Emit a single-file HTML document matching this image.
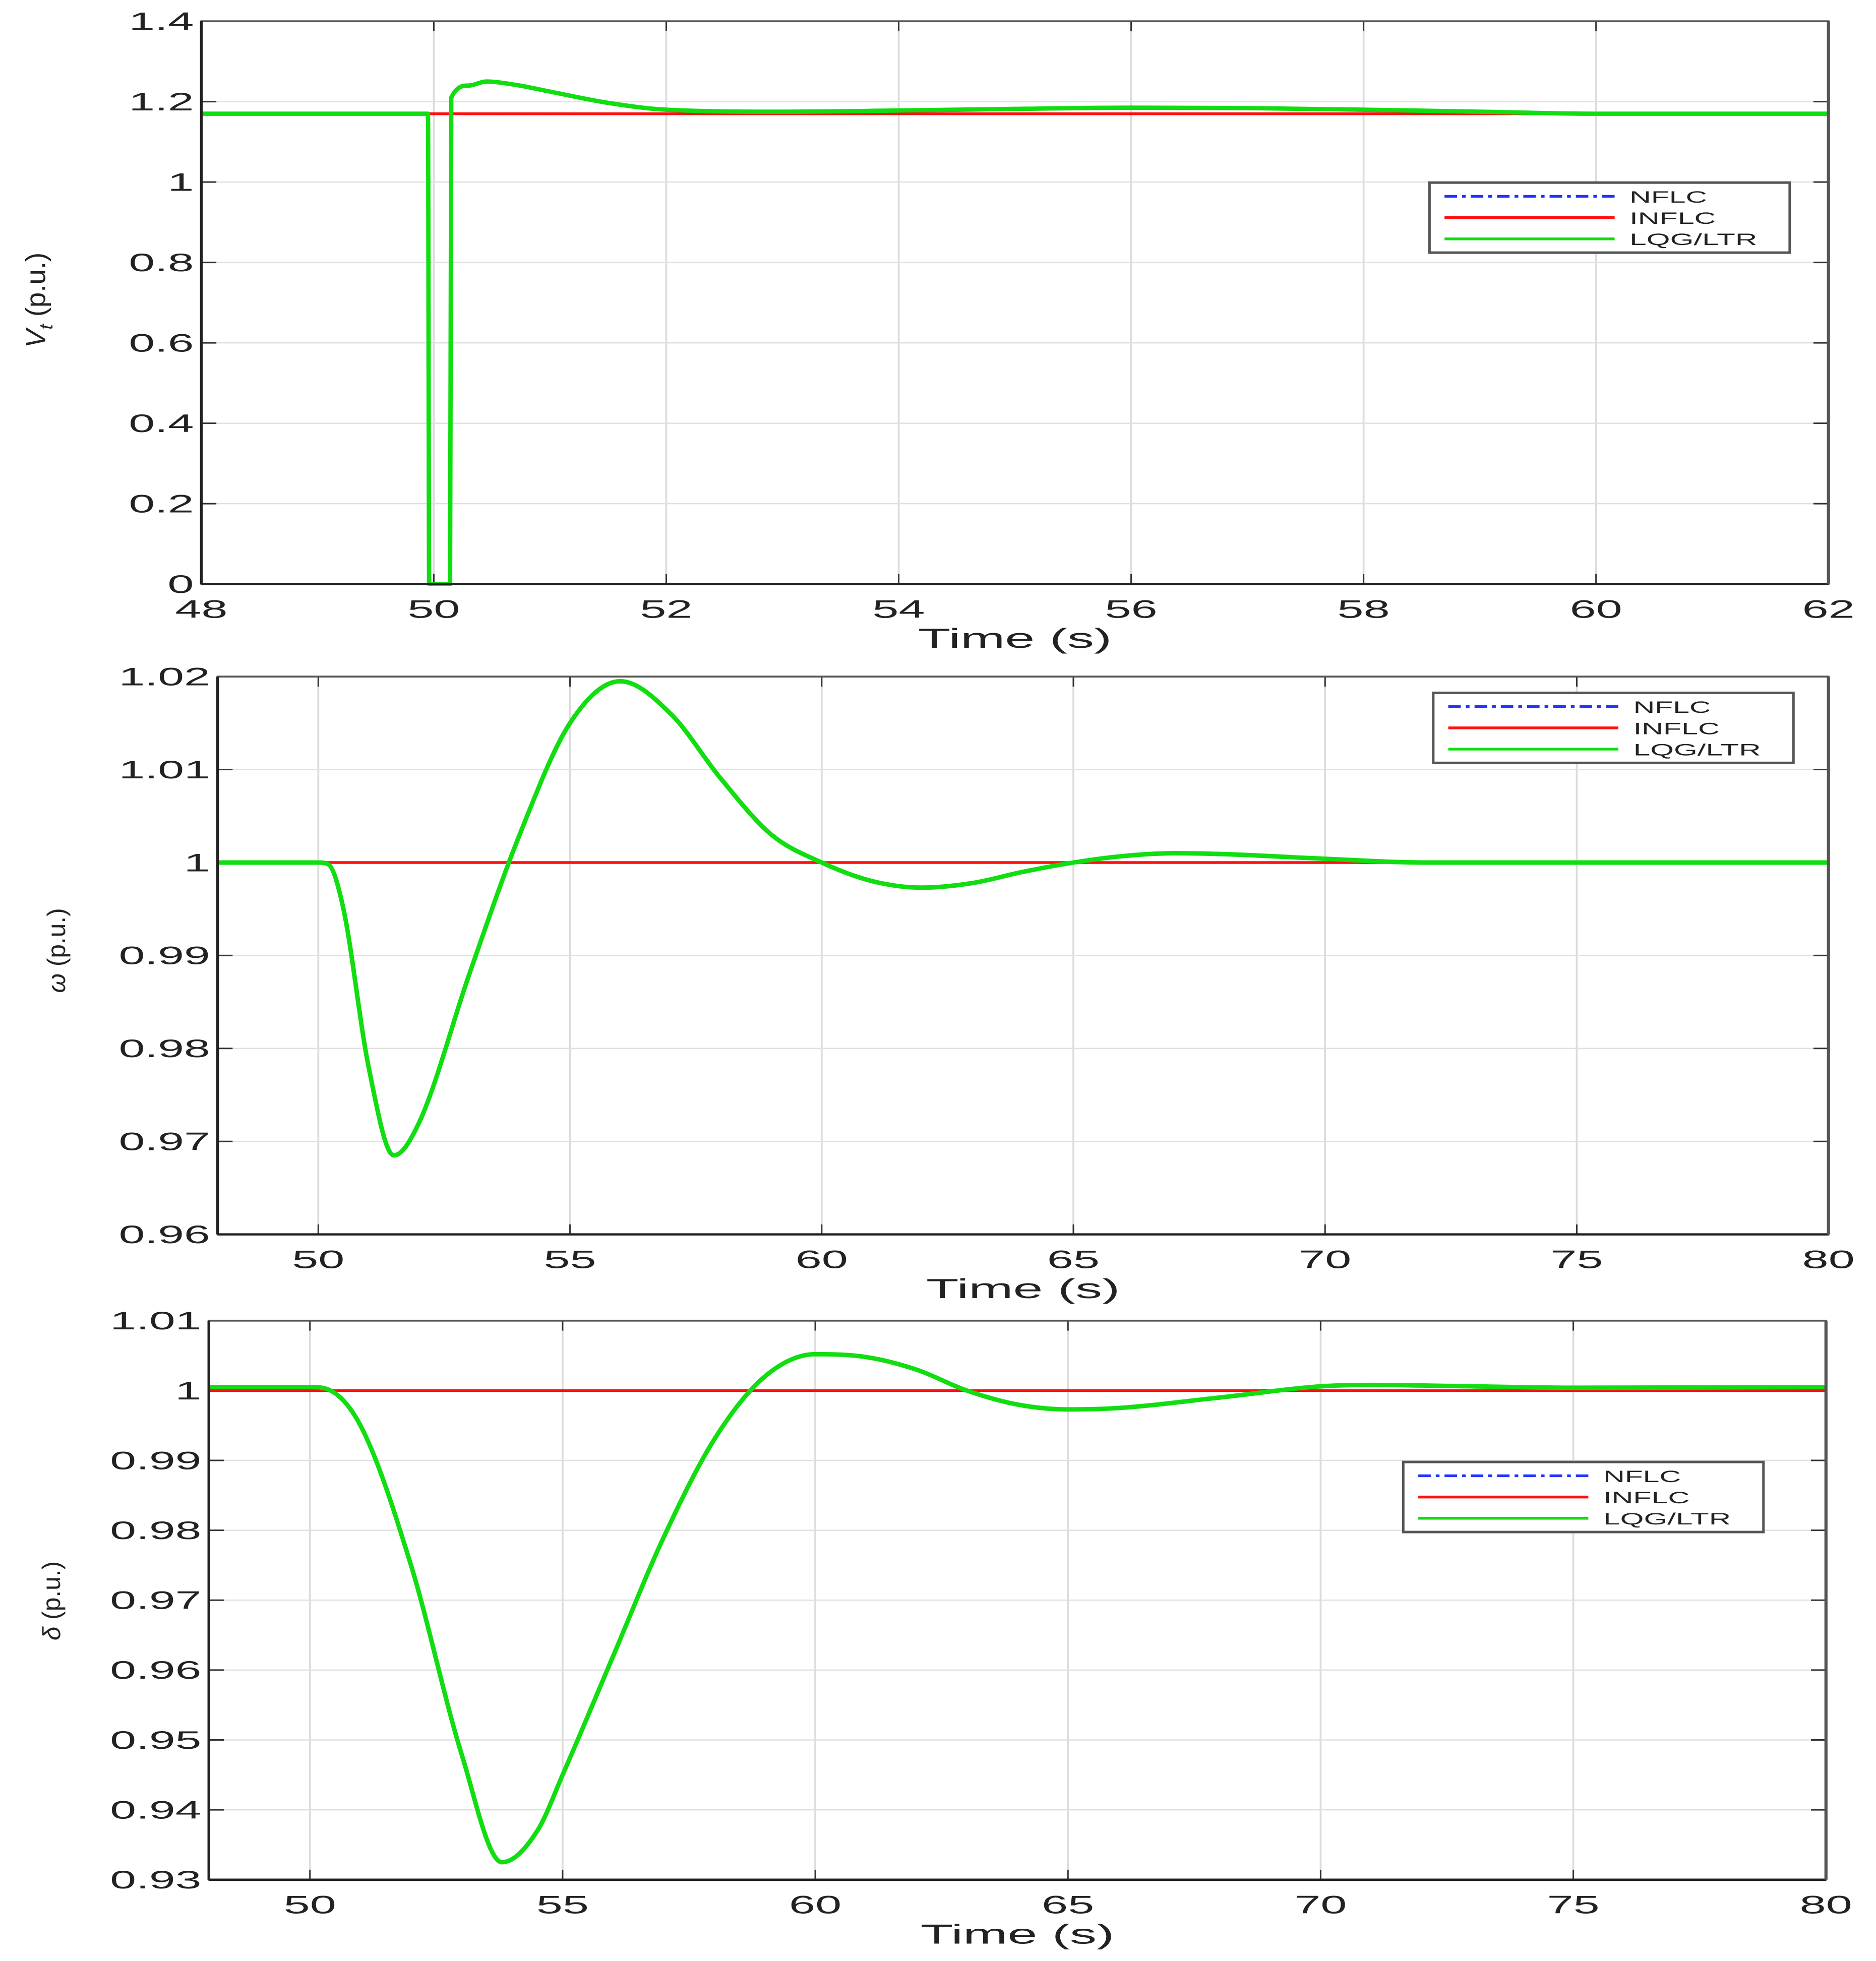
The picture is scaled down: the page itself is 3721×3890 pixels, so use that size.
<!DOCTYPE html>
<html><head><meta charset="utf-8"><style>
html,body{margin:0;padding:0;background:#fff}
svg{display:block}
text{font-family:"Liberation Sans",sans-serif;fill:#222}
</style></head><body>
<svg id="fig" width="3721" height="3890" viewBox="0 0 1500 1568" preserveAspectRatio="none" xmlns="http://www.w3.org/2000/svg"></svg>
<script>
// ---- data ----
const vtTime = [48,49.95,49.96,50.1,50.14,50.15,50.3,50.45,50.7,51,51.5,52,53,54,55,56,57,58,59,60,61,62];
const vtLQG  = [1.17,1.17,0,0,0,1.21,1.24,1.25,1.242,1.225,1.197,1.18,1.175,1.178,1.182,1.185,1.184,1.18,1.175,1.17,1.17,1.17];
const vtRefTime = [48,50,50.15,62];
const vtINFLC = [1.17,1.17,1.17,1.17];

const wTime = [48,50,50.2,50.5,51,51.5,52,53,54,55,56,57,58,59,60,61,62,63,64,65,66,67,68,70,72,75,80];
const wLQG  = [1,1,0.9998,0.995,0.978,0.9685,0.972,0.988,1.003,1.015,1.0195,1.016,1.009,1.003,1.0,0.998,0.9973,0.9978,0.999,1.0,1.0007,1.001,1.0009,1.0004,1.0,1.0,1.0];
const wRefTime = [48,80];
const wINFLC = [1,1];

const dTime = [48,50,50.3,51,52,53,53.8,54.5,55,56,57,58,59,60,61,62,63,64,65,66,68,70,71,73,75,80];
const dLQG  = [1.0005,1.0005,1.0003,0.995,0.975,0.948,0.9325,0.937,0.945,0.962,0.979,0.993,1.002,1.0052,1.0048,1.003,1.0,0.998,0.9973,0.9975,0.999,1.0006,1.0008,1.0006,1.0004,1.0005];
const dRefTime = [48,80];
const dINFLC = [1,1];

const vtTicksX = [48,50,52,54,56,58,60,62];
const vtTicksY = [0,0.2,0.4,0.6,0.8,1,1.2,1.4];
const vtTickLblY = ["0","0.2","0.4","0.6","0.8","1","1.2","1.4"];
const wTicksX = [50,55,60,65,70,75,80];
const wTicksY = [0.96,0.97,0.98,0.99,1,1.01,1.02];
const wTickLblY = ["0.96","0.97","0.98","0.99","1","1.01","1.02"];
const dTicksX = [50,55,60,65,70,75,80];
const dTicksY = [0.93,0.94,0.95,0.96,0.97,0.98,0.99,1,1.01];
const dTickLblY = ["0.93","0.94","0.95","0.96","0.97","0.98","0.99","1","1.01"];
const legendLabels = ["NFLC","INFLC","LQG/LTR"];

// ---- drawing ----
const NS="http://www.w3.org/2000/svg";
const svg=document.getElementById('fig');
function mk(tag,attrs,parent){const e=document.createElementNS(NS,tag);for(const k in attrs)e.setAttribute(k,attrs[k]);(parent||svg).appendChild(e);return e;}
function tw(s){let w=0;for(const c of s)w+=(c==='.'?10:21);return w;}

function pathFrom(xs,ys,sx,sy){
  const X=xs.map(sx),Y=ys.map(sy),n=X.length;
  const d=[],m=new Array(n).fill(0);
  for(let i=0;i<n-1;i++)d.push((Y[i+1]-Y[i])/(X[i+1]-X[i]));
  m[0]=d[0];m[n-1]=d[n-2];
  for(let i=1;i<n-1;i++){m[i]=(d[i-1]*d[i]<=0)?0:(d[i-1]+d[i])/2;}
  for(let i=0;i<n-1;i++){
    if(d[i]===0){m[i]=0;m[i+1]=0;continue;}
    const a=m[i]/d[i],b=m[i+1]/d[i],s=a*a+b*b;
    if(s>9){const t=3/Math.sqrt(s);m[i]=t*a*d[i];m[i+1]=t*b*d[i];}
  }
  let p='M'+X[0].toFixed(2)+','+Y[0].toFixed(2);
  for(let i=0;i<n-1;i++){
    const h=X[i+1]-X[i];
    p+='C'+(X[i]+h/3).toFixed(2)+','+(Y[i]+m[i]*h/3).toFixed(2)+' '+(X[i+1]-h/3).toFixed(2)+','+(Y[i+1]-m[i+1]*h/3).toFixed(2)+' '+X[i+1].toFixed(2)+','+Y[i+1].toFixed(2);
  }
  return p;
}

function panel(cfg){
  const g=mk('g',{});
  
  
  const sx=v=>cfg.L+(v-cfg.x0)/(cfg.x1-cfg.x0)*(cfg.R-cfg.L);
  const sy=v=>cfg.B-(v-cfg.y0)/(cfg.y1-cfg.y0)*(cfg.B-cfg.T);
  cfg.tx.forEach(t=>{const l=mk('line',{x1:sx(t),x2:sx(t),y1:cfg.T,y2:cfg.B,stroke:'#dcdcdc','stroke-width':1.5},g);
    });
  cfg.ty.forEach(t=>{const l=mk('line',{x1:cfg.L,x2:cfg.R,y1:sy(t),y2:sy(t),stroke:'#e0e0e0','stroke-width':1},g);
    });
  cfg.tx.forEach(t=>{mk('line',{x1:sx(t),x2:sx(t),y1:cfg.B,y2:cfg.B-8,stroke:'#333','stroke-width':1.2},g);mk('line',{x1:sx(t),x2:sx(t),y1:cfg.T,y2:cfg.T+8,stroke:'#333','stroke-width':1.2},g);
    const s=String(t);
    const tt=mk('text',{x:sx(t),y:cfg.B+27,'text-anchor':'middle','font-size':20,fill:'#333',textLength:tw(s),lengthAdjust:'spacingAndGlyphs'},g);tt.textContent=s;
    });
  cfg.ty.forEach((t,i)=>{mk('line',{x1:cfg.L,x2:cfg.L+12,y1:sy(t),y2:sy(t),stroke:'#333','stroke-width':1.2},g);mk('line',{x1:cfg.R,x2:cfg.R-12,y1:sy(t),y2:sy(t),stroke:'#333','stroke-width':1.2},g);
    const s=cfg.tyl[i];
    const tt=mk('text',{x:cfg.L-6-tw(s),y:sy(t)+7,'font-size':20,fill:'#333',textLength:tw(s),lengthAdjust:'spacingAndGlyphs'},g);tt.textContent=s;
    });
  const b=mk('path',{d:pathFrom(cfg.refT,cfg.ref,sx,sy),fill:'none',stroke:'#2233ff','stroke-width':2,'stroke-dasharray':'10,4,3,4'},g);
  
  const r=mk('path',{d:pathFrom(cfg.refT,cfg.ref,sx,sy),fill:'none',stroke:'#ff1010','stroke-width':2.2},g);
  
  const gr=mk('path',{d:pathFrom(cfg.t,cfg.v,sx,sy),fill:'none',stroke:'#11dd11','stroke-width':cfg.gw,'stroke-linejoin':'round'},g);
  
  const bx=mk('rect',{x:cfg.L,y:cfg.T,width:cfg.R-cfg.L,height:cfg.B-cfg.T,fill:'none',stroke:'#555','stroke-width':1.5},g);
  
  mk('line',{x1:cfg.L,x2:cfg.L,y1:cfg.T,y2:cfg.B,stroke:'#222','stroke-width':2.2},g);
  mk('line',{x1:cfg.L,x2:cfg.R,y1:cfg.B,y2:cfg.B,stroke:'#222','stroke-width':1.8},g);
  mk('line',{x1:cfg.R,x2:cfg.R,y1:cfg.T,y2:cfg.B,stroke:'#555','stroke-width':2.5},g);
  const xl=mk('text',{x:(cfg.L+cfg.R)/2,y:cfg.B+51,'text-anchor':'middle','font-size':22,fill:'#333',textLength:155,lengthAdjust:'spacingAndGlyphs'},g);xl.textContent='Time (s)';
  
  const yl=mk('text',{transform:`translate(${cfg.ylx},${cfg.yly}) rotate(-90)`,'text-anchor':'middle','font-size':cfg.ylfs},g);
  
  yl.innerHTML=cfg.ylab;
  const lg=mk('g',{},g);
  mk('rect',{x:cfg.lx,y:cfg.ly,width:288,height:56,fill:'#fff',stroke:'#555','stroke-width':2},lg);
  const cols=['#2233ff','#ff1010','#11dd11'];const dash=['10,4,3,4','',''];const lw=[62,69,102];
  legendLabels.forEach((s,i)=>{const yy=cfg.ly+11+i*17;
    const ln=mk('line',{x1:cfg.lx+12,x2:cfg.lx+148,y1:yy,y2:yy,stroke:cols[i],'stroke-width':2.2,'stroke-dasharray':dash[i]},lg);
    
    const tt=mk('text',{x:cfg.lx+160,y:yy+5,'font-size':13,textLength:lw[i],lengthAdjust:'spacingAndGlyphs'},lg);tt.textContent=s;
    });
}

panel({name:'vt-panel',L:161,R:1462,T:17,B:467,x0:48,x1:62,y0:0,y1:1.4,tx:vtTicksX,ty:vtTicksY,tyl:vtTickLblY,
  t:vtTime,v:vtLQG,refT:vtRefTime,ref:vtINFLC,gw:3.5,ylx:36,yly:240,ylfs:22,
  ylab:'<tspan font-style="italic">V</tspan><tspan font-style="italic" font-size="15" dy="6">t</tspan><tspan dy="-6"> (p.u.)</tspan>',lx:1143,ly:146});
panel({name:'omega-panel',L:174,R:1462,T:541,B:987,x0:48,x1:80,y0:0.96,y1:1.02,tx:wTicksX,ty:wTicksY,tyl:wTickLblY,
  t:wTime,v:wLQG,refT:wRefTime,ref:wINFLC,gw:3.6,ylx:52,yly:760,ylfs:20,
  ylab:'<tspan font-style="italic">ω</tspan> (p.u.)',lx:1146,ly:554});
panel({name:'delta-panel',L:167,R:1460,T:1056,B:1503,x0:48,x1:80,y0:0.93,y1:1.01,tx:dTicksX,ty:dTicksY,tyl:dTickLblY,
  t:dTime,v:dLQG,refT:dRefTime,ref:dINFLC,gw:3.6,ylx:48,yly:1280,ylfs:20,
  ylab:'<tspan font-style="italic">δ</tspan> (p.u.)',lx:1122,ly:1169});
</script>
</body></html>
